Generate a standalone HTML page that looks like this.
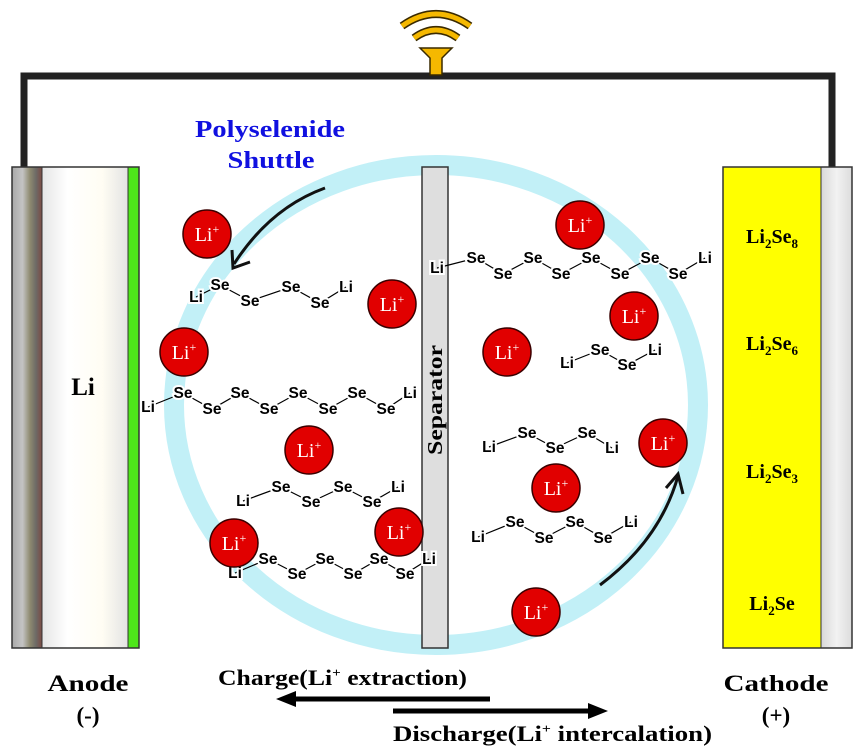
<!DOCTYPE html>
<html><head><meta charset="utf-8"><style>
html,body{margin:0;padding:0;background:#fff;}
svg{display:block;}
.se{font-family:"Liberation Sans",sans-serif;font-weight:bold;font-size:15.5px;fill:#000;text-anchor:middle;stroke:#fff;stroke-width:4px;paint-order:stroke;}
.ion{fill:#e10000;stroke:#3a0000;stroke-width:1.5;}
.it{font-family:"Liberation Serif",serif;font-size:20px;fill:#fff;text-anchor:middle;}
.sr{font-family:"Liberation Serif",serif;font-weight:bold;fill:#000;}
.ch{fill:none;stroke:#000;stroke-width:1.2;}
</style></head><body>
<svg width="866" height="752" viewBox="0 0 866 752" xmlns="http://www.w3.org/2000/svg">
<defs>
<linearGradient id="ag" x1="0" x2="1">
<stop offset="0" stop-color="#a8a8a8"/><stop offset="0.35" stop-color="#c4c4c4"/><stop offset="0.6" stop-color="#8e8a70"/><stop offset="0.8" stop-color="#6d6a66"/><stop offset="1" stop-color="#7d4b44"/>
</linearGradient>
<linearGradient id="wg" x1="0" x2="1">
<stop offset="0" stop-color="#e6e6e6"/><stop offset="0.3" stop-color="#fff"/><stop offset="0.7" stop-color="#fffdf3"/><stop offset="1" stop-color="#e3e3e3"/>
</linearGradient>
<linearGradient id="cg" x1="0" x2="1">
<stop offset="0" stop-color="#d8d8d8"/><stop offset="0.5" stop-color="#f2f2f2"/><stop offset="1" stop-color="#dcdcdc"/>
</linearGradient>
</defs>
<path d="M24,167 V76 H832 V167" fill="none" stroke="#222" stroke-width="7"/>
<path d="M402,26 Q436,2 470,26" fill="none" stroke="#3a2a00" stroke-width="8"/>
<path d="M402,26 Q436,2 470,26" fill="none" stroke="#f5b800" stroke-width="5"/>
<path d="M414,38 Q436,22 458,38" fill="none" stroke="#3a2a00" stroke-width="8"/>
<path d="M414,38 Q436,22 458,38" fill="none" stroke="#f5b800" stroke-width="5"/>
<path d="M420,48 H452 L442,58 V75 H430 V58 Z" fill="#f5b800" stroke="#3a2a00" stroke-width="1.5"/>
<ellipse cx="436" cy="405" rx="262" ry="240" fill="none" stroke="#c2f0f7" stroke-width="20"/>
<rect x="12" y="167" width="30" height="481" fill="url(#ag)"/>
<rect x="42" y="167" width="86" height="481" fill="url(#wg)"/>
<rect x="128" y="167" width="11" height="481" fill="#4ee61a"/>
<rect x="12" y="167" width="127" height="481" fill="none" stroke="#333" stroke-width="1.5"/>
<line x1="42" y1="167" x2="42" y2="648" stroke="#333"/><line x1="128" y1="167" x2="128" y2="648" stroke="#333"/>
<text x="83" y="395" class="sr" font-size="25" text-anchor="middle">Li</text>
<rect x="723" y="167" width="98" height="481" fill="#ffff00"/>
<rect x="821" y="167" width="31" height="481" fill="url(#cg)"/>
<rect x="723" y="167" width="129" height="481" fill="none" stroke="#333" stroke-width="1.5"/>
<line x1="821" y1="167" x2="821" y2="648" stroke="#333"/>
<g class="sr" font-size="20" text-anchor="middle">
<text x="772" y="243">Li<tspan font-size="13" dy="5">2</tspan><tspan dy="-5">Se</tspan><tspan font-size="13" dy="5">8</tspan></text>
<text x="772" y="350">Li<tspan font-size="13" dy="5">2</tspan><tspan dy="-5">Se</tspan><tspan font-size="13" dy="5">6</tspan></text>
<text x="772" y="478">Li<tspan font-size="13" dy="5">2</tspan><tspan dy="-5">Se</tspan><tspan font-size="13" dy="5">3</tspan></text>
<text x="772" y="610">Li<tspan font-size="13" dy="5">2</tspan><tspan dy="-5">Se</tspan></text>
</g>
<rect x="422" y="167" width="26" height="481" fill="#dedede" stroke="#333" stroke-width="1.5"/>
<text class="sr" font-size="21" text-anchor="middle" textLength="110" lengthAdjust="spacingAndGlyphs" transform="translate(442,400) rotate(-90)">Separator</text>
<text x="270" y="137" class="sr" font-size="24" text-anchor="middle" textLength="150" lengthAdjust="spacingAndGlyphs" style="fill:#1010e0">Polyselenide</text>
<text x="271" y="168" class="sr" font-size="24" text-anchor="middle" textLength="87" lengthAdjust="spacingAndGlyphs" style="fill:#1010e0">Shuttle</text>
<path d="M325,188 Q270,208 234,264" fill="none" stroke="#111" stroke-width="3"/>
<path d="M232,250 L233,268 L250,262" fill="none" stroke="#111" stroke-width="3"/>
<path d="M600,585 Q660,540 678,476" fill="none" stroke="#111" stroke-width="3"/>
<path d="M666,488 L678,474 L683,494" fill="none" stroke="#111" stroke-width="3"/>
<polyline class="ch" points="196,297 220,285 250,301 291,287 320,303 346,287"/>
<text class="se" x="196" y="302">Li</text><text class="se" x="220" y="290">Se</text><text class="se" x="250" y="306">Se</text><text class="se" x="291" y="292">Se</text><text class="se" x="320" y="308">Se</text><text class="se" x="346" y="292">Li</text>
<polyline class="ch" points="148,407 183,393 212,409 240,393 269,409 298,393 328,409 357,393 386,409 410,393"/>
<text class="se" x="148" y="412">Li</text><text class="se" x="183" y="398">Se</text><text class="se" x="212" y="414">Se</text><text class="se" x="240" y="398">Se</text><text class="se" x="269" y="414">Se</text><text class="se" x="298" y="398">Se</text><text class="se" x="328" y="414">Se</text><text class="se" x="357" y="398">Se</text><text class="se" x="386" y="414">Se</text><text class="se" x="410" y="398">Li</text>
<polyline class="ch" points="437,268 476,258 503,274 533,258 561,274 591,258 620,274 650,258 678,274 705,258"/>
<text class="se" x="437" y="273">Li</text><text class="se" x="476" y="263">Se</text><text class="se" x="503" y="279">Se</text><text class="se" x="533" y="263">Se</text><text class="se" x="561" y="279">Se</text><text class="se" x="591" y="263">Se</text><text class="se" x="620" y="279">Se</text><text class="se" x="650" y="263">Se</text><text class="se" x="678" y="279">Se</text><text class="se" x="705" y="263">Li</text>
<polyline class="ch" points="567,363 600,350 627,365 655,350"/>
<text class="se" x="567" y="368">Li</text><text class="se" x="600" y="355">Se</text><text class="se" x="627" y="370">Se</text><text class="se" x="655" y="355">Li</text>
<polyline class="ch" points="489,447 527,433 555,448 587,433 612,448"/>
<text class="se" x="489" y="452">Li</text><text class="se" x="527" y="438">Se</text><text class="se" x="555" y="453">Se</text><text class="se" x="587" y="438">Se</text><text class="se" x="612" y="453">Li</text>
<polyline class="ch" points="478,537 515,522 544,538 575,522 603,538 631,522"/>
<text class="se" x="478" y="542">Li</text><text class="se" x="515" y="527">Se</text><text class="se" x="544" y="543">Se</text><text class="se" x="575" y="527">Se</text><text class="se" x="603" y="543">Se</text><text class="se" x="631" y="527">Li</text>
<polyline class="ch" points="243,501 281,487 311,502 343,487 372,502 398,487"/>
<text class="se" x="243" y="506">Li</text><text class="se" x="281" y="492">Se</text><text class="se" x="311" y="507">Se</text><text class="se" x="343" y="492">Se</text><text class="se" x="372" y="507">Se</text><text class="se" x="398" y="492">Li</text>
<polyline class="ch" points="235,573 268,559 297,574 325,559 353,574 379,559 405,574 429,559"/>
<text class="se" x="235" y="578">Li</text><text class="se" x="268" y="564">Se</text><text class="se" x="297" y="579">Se</text><text class="se" x="325" y="564">Se</text><text class="se" x="353" y="579">Se</text><text class="se" x="379" y="564">Se</text><text class="se" x="405" y="579">Se</text><text class="se" x="429" y="564">Li</text>
<g>
<circle class="ion" cx="207" cy="234" r="24"/><text class="it" x="207" y="241">Li<tspan font-size="12" dy="-8">+</tspan></text>
<circle class="ion" cx="580" cy="225" r="24"/><text class="it" x="580" y="232">Li<tspan font-size="12" dy="-8">+</tspan></text>
<circle class="ion" cx="392" cy="304" r="24"/><text class="it" x="392" y="311">Li<tspan font-size="12" dy="-8">+</tspan></text>
<circle class="ion" cx="634" cy="316" r="24"/><text class="it" x="634" y="323">Li<tspan font-size="12" dy="-8">+</tspan></text>
<circle class="ion" cx="184" cy="352" r="24"/><text class="it" x="184" y="359">Li<tspan font-size="12" dy="-8">+</tspan></text>
<circle class="ion" cx="507" cy="352" r="24"/><text class="it" x="507" y="359">Li<tspan font-size="12" dy="-8">+</tspan></text>
<circle class="ion" cx="309" cy="450" r="24"/><text class="it" x="309" y="457">Li<tspan font-size="12" dy="-8">+</tspan></text>
<circle class="ion" cx="663" cy="443" r="24"/><text class="it" x="663" y="450">Li<tspan font-size="12" dy="-8">+</tspan></text>
<circle class="ion" cx="556" cy="488" r="24"/><text class="it" x="556" y="495">Li<tspan font-size="12" dy="-8">+</tspan></text>
<circle class="ion" cx="399" cy="532" r="24"/><text class="it" x="399" y="539">Li<tspan font-size="12" dy="-8">+</tspan></text>
<circle class="ion" cx="234" cy="543" r="24"/><text class="it" x="234" y="550">Li<tspan font-size="12" dy="-8">+</tspan></text>
<circle class="ion" cx="536" cy="612" r="24"/><text class="it" x="536" y="619">Li<tspan font-size="12" dy="-8">+</tspan></text>
</g>
<g class="sr" font-size="23" text-anchor="middle">
<text x="88" y="691" textLength="81" lengthAdjust="spacingAndGlyphs">Anode</text><text x="88" y="723">(-)</text>
<text x="776" y="691" textLength="105" lengthAdjust="spacingAndGlyphs">Cathode</text><text x="776" y="723">(+)</text>
</g>
<text x="218" y="685" class="sr" font-size="22" textLength="249" lengthAdjust="spacingAndGlyphs">Charge(Li<tspan font-size="13" dy="-8">+</tspan><tspan dy="8"> extraction)</tspan></text>
<line x1="490" y1="699" x2="290" y2="699" stroke="#000" stroke-width="5"/>
<polygon points="276,699 296,691 296,707" fill="#000"/>
<line x1="393" y1="711" x2="592" y2="711" stroke="#000" stroke-width="5"/>
<polygon points="608,711 588,703 588,719" fill="#000"/>
<text x="393" y="741" class="sr" font-size="22" textLength="319" lengthAdjust="spacingAndGlyphs">Discharge(Li<tspan font-size="13" dy="-8">+</tspan><tspan dy="8"> intercalation)</tspan></text>
</svg>
</body></html>
